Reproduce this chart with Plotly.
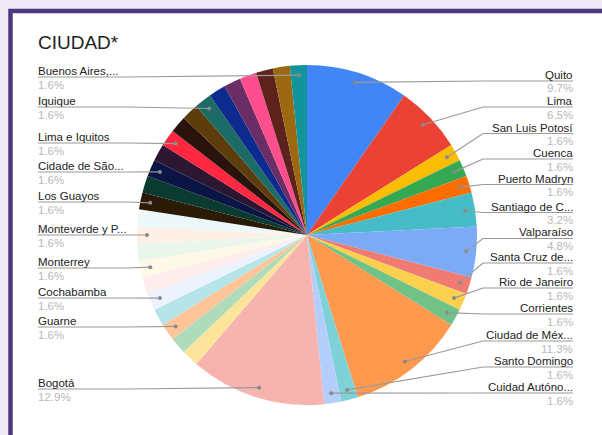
import math
import plotly.graph_objects as go

# ---------------- data ----------------
ciudades = [
    "Quito", "Lima", "San Luis Potosí", "Cuenca", "Puerto Madryn",
    "Santiago de C...", "Valparaíso", "Santa Cruz de...", "Rio de Janeiro",
    "Corrientes", "Ciudad de Méx...", "Santo Domingo", "Cuidad Autóno...",
    "Bogotá",
    "Otra 1", "Otra 2", "Guarne", "Otra 3", "Cochabamba", "Otra 4",
    "Monterrey", "Otra 5", "Monteverde y P...", "Otra 6", "Los Guayos",
    "Otra 7", "Cidade de São...", "Otra 8", "Lima e Iquitos", "Otra 9",
    "Otra 10", "Iquique", "Otra 11", "Otra 12", "Otra 13", "Otra 14",
    "Otra 15", "Buenos Aires,...",
]
respuestas = [6, 4, 1, 1, 1, 2, 3, 1, 1, 1, 7, 1, 1, 8,
              1, 1, 1, 1, 1, 1, 1, 1, 1, 1, 1, 1, 1, 1, 1, 1, 1, 1, 1, 1, 1, 1, 1, 1]

# labels shown on the chart (right column / left column)
etiquetas_derecha = ["Quito", "Lima", "San Luis Potosí", "Cuenca", "Puerto Madryn",
                     "Santiago de C...", "Valparaíso", "Santa Cruz de...", "Rio de Janeiro",
                     "Corrientes", "Ciudad de Méx...", "Santo Domingo", "Cuidad Autóno..."]
etiquetas_izquierda = ["Buenos Aires,...", "Iquique", "Lima e Iquitos", "Cidade de São...",
                       "Los Guayos", "Monteverde y P...", "Monterrey", "Cochabamba",
                       "Guarne", "Bogotá"]

# ---------------- style / layout ----------------
colores = [
    "#4285F4", "#EA4335", "#FBBC04", "#34A853", "#FF6D01", "#46BDC6", "#7BAAF7",
    "#F07B72", "#FCD04F", "#71C287", "#FF994D", "#7ED1D7", "#B3CEFB", "#F7B4AE",
    "#FDE49B", "#AEDCBA", "#FFC599", "#B5E5E8", "#ECF3FE", "#FDEDEC", "#FEF8E6",
    "#EAF6EC", "#FFF0E6", "#ECF8F9",
    "#2B1A06", "#0B3A31", "#0A1545", "#2D1632", "#FF2840", "#2A130D", "#5C3D0B",
    "#1C6B66", "#0D2B8E", "#6A2D66", "#FF4E8D", "#5E221C", "#9C6811", "#13939A",
]

W, H = 602, 435
CX, CY, R = 307, 235, 170
R_DOT = 160
FONT = "Liberation Sans, Arial, sans-serif"
FS = 11.5

# label underline y positions (pixels from top)
linea_y_der = [81, 107, 133.5, 159, 184.5, 212.5, 238.5, 263, 288, 314, 341, 367, 393]
linea_y_izq = [77, 107, 143, 172, 202, 235, 268, 298, 327, 389]


def px(x):
    return x / W


def py(y):
    return 1 - y / H


total = sum(respuestas)
acum = 0
punto = {}
pct = {}
for nombre, v in zip(ciudades, respuestas):
    theta = math.radians((acum + v / 2) / total * 360)
    punto[nombre] = (CX + R_DOT * math.sin(theta), CY - R_DOT * math.cos(theta))
    pct[nombre] = f"{v / total * 100:.1f}%"
    acum += v

fig = go.Figure(go.Pie(
    labels=ciudades, values=respuestas, sort=False, direction="clockwise",
    rotation=0, textinfo="none", hole=0,
    marker=dict(colors=colores, line=dict(width=0)),
    domain=dict(x=[px(CX - R), px(CX + R)], y=[py(CY + R), py(CY - R)]),
    showlegend=False,
))

shapes = [
    # card with purple border
    dict(type="rect", xref="paper", yref="paper", x0=px(10.5), x1=1.05,
         y0=-0.05, y1=py(11), fillcolor="white",
         line=dict(color="#4B3A7B", width=4.5), layer="below"),
]
annotations = [
    dict(text="CIUDAD*", x=px(37), y=py(42.5), xref="paper", yref="paper",
         xanchor="left", yanchor="middle", showarrow=False, borderpad=0,
         font=dict(family=FONT, size=19, color="#222222")),
]


def etiqueta(texto, x, yc, anchor, color):
    return dict(text=texto, x=px(x), y=py(yc), xref="paper", yref="paper",
                xanchor=anchor, yanchor="middle", showarrow=False, borderpad=0,
                font=dict(family=FONT, size=FS, color=color))


XR_TEXT, XR_BEND = 573, 483
for nombre, ly in zip(etiquetas_derecha, linea_y_der):
    dx, dy = punto[nombre]
    shapes.append(dict(type="path", xref="paper", yref="paper",
                       path=f"M {px(XR_TEXT)},{py(ly)} L {px(XR_BEND)},{py(ly)} L {px(dx)},{py(dy)}",
                       line=dict(color="#9a9a9a", width=1.2), layer="above"))
    annotations.append(etiqueta(nombre, XR_TEXT + 1, ly - 6, "right", "#222222"))
    annotations.append(etiqueta(pct[nombre], XR_TEXT + 1, ly + 7.5, "right", "#b8b8b8"))

XL_TEXT, XL_BEND = 38, 128
for nombre, ly in zip(etiquetas_izquierda, linea_y_izq):
    dx, dy = punto[nombre]
    bend = min(XL_BEND, dx)
    shapes.append(dict(type="path", xref="paper", yref="paper",
                       path=f"M {px(XL_TEXT)},{py(ly)} L {px(bend)},{py(ly)} L {px(dx)},{py(dy)}",
                       line=dict(color="#9a9a9a", width=1.2), layer="above"))
    annotations.append(etiqueta(nombre, XL_TEXT - 1, ly - 6, "left", "#222222"))
    annotations.append(etiqueta(pct[nombre], XL_TEXT - 1, ly + 7.5, "left", "#b8b8b8"))

for nombre in etiquetas_derecha + etiquetas_izquierda:
    dx, dy = punto[nombre]
    shapes.append(dict(type="circle", xref="paper", yref="paper",
                       x0=px(dx - 2), x1=px(dx + 2), y0=py(dy + 2), y1=py(dy - 2),
                       fillcolor="#8a8a8a", line=dict(width=0), layer="above"))

fig.update_layout(
    width=W, height=H, margin=dict(l=0, r=0, t=0, b=0),
    paper_bgcolor="#EDEAF5", plot_bgcolor="white",
    shapes=shapes, annotations=annotations,
)
fig.write_html("out.html", config={"displayModeBar": False},
               post_script="document.body.style.margin='0';")
